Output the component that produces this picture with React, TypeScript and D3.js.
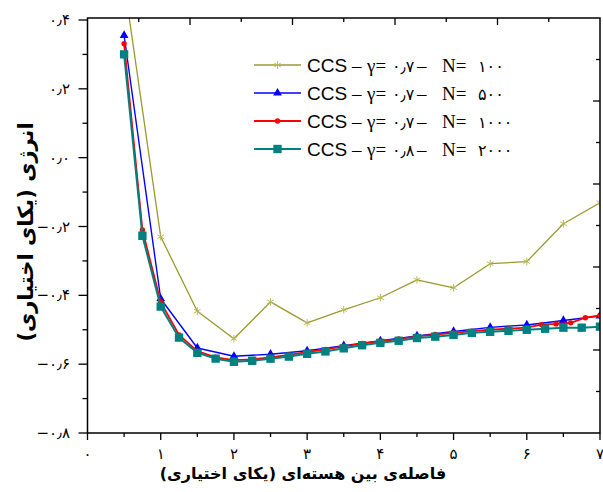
import React from "react";
import * as d3 from "d3";

// ---- data ----
const xOlive = [0.5, 1.0, 1.5, 2.0, 2.5, 3.0, 3.5, 4.0, 4.5, 5.0, 5.5, 6.0, 6.5, 7.0];
const yOlive = [0.51, -0.23, -0.446, -0.526, -0.419, -0.48, -0.442, -0.407, -0.355, -0.378, -0.308, -0.302, -0.192, -0.131];

const xBlue = [0.5, 1.0, 1.5, 2.0, 2.5, 3.0, 3.5, 4.0, 4.5, 5.0, 5.5, 6.0, 6.5, 7.0];
const yBlue = [0.355, -0.41, -0.553, -0.577, -0.571, -0.561, -0.546, -0.532, -0.518, -0.505, -0.493, -0.486, -0.473, -0.46];

const xRed = [0.5, 0.75, 1.0, 1.25, 1.5, 1.75, 2.0, 2.25, 2.5, 2.75, 3.0, 3.25, 3.5, 3.75, 4.0, 4.25, 4.5, 4.75, 5.0, 5.25, 5.5, 5.75, 6.0, 6.2, 6.4, 6.6, 6.8, 7.0];
const yRed = [0.331, -0.21, -0.42, -0.515, -0.562, -0.58, -0.588, -0.586, -0.58, -0.573, -0.565, -0.557, -0.548, -0.54, -0.533, -0.527, -0.519, -0.514, -0.509, -0.504, -0.5, -0.497, -0.494, -0.485, -0.483, -0.48, -0.465, -0.458];

const xTeal = [0.5, 0.75, 1.0, 1.25, 1.5, 1.75, 2.0, 2.25, 2.5, 2.75, 3.0, 3.25, 3.5, 3.75, 4.0, 4.25, 4.5, 4.75, 5.0, 5.25, 5.5, 5.75, 6.0, 6.25, 6.5, 6.75, 7.0];
const yTeal = [0.3, -0.227, -0.433, -0.523, -0.567, -0.584, -0.593, -0.59, -0.584, -0.578, -0.57, -0.563, -0.554, -0.545, -0.538, -0.532, -0.524, -0.52, -0.515, -0.509, -0.506, -0.503, -0.5, -0.497, -0.494, -0.494, -0.491];

const legendNumbers = ["۱۰۰", "۵۰۰", "۱۰۰۰", "۲۰۰۰"];
const legendGammas = ["۰٫۷", "۰٫۷", "۰٫۷", "۰٫۸"];

const xTickValues = [0, 1, 2, 3, 4, 5, 6, 7];
const xTickLabels = ["۰", "۱", "۲", "۳", "۴", "۵", "۶", "۷"];
const yTickValues = [0.4, 0.2, 0.0, -0.2, -0.4, -0.6, -0.8];
const yTickLabels = ["۰٫۴", "۰٫۲", "۰٫۰", "−۰٫۲", "−۰٫۴", "−۰٫۶", "−۰٫۸"];

const xTitle = "فاصله‌ی بین هسته‌ای (یکای اختیاری)";
const yTitle = "انرژی (یکای اختیاری)";

const LRO = "\u202D";
const PDF = "\u202C";

export default function App() {
  const W = 603, H = 492;
  const L = 87.5, R = 600, T = 18, B = 433;
  const x = d3.scaleLinear().domain([0, 7]).range([L, R]);
  const y = d3.scaleLinear().domain([-0.8, 0.4]).range([433, 20]);

  const mkLine = (xs: number[], ys: number[]) =>
    d3.line<number>().x((_, i) => x(xs[i])).y((d) => y(d))(ys) || "";

  const sym = (type: d3.SymbolType, size: number) => d3.symbol().type(type).size(size)() || "";
  const triPath = sym(d3.symbolTriangle, 34);
  const sqPath = sym(d3.symbolSquare, 70);
  const astPath = sym(d3.symbolAsterisk, 40);

  const series = [
    { xs: xOlive, ys: yOlive, color: "#9a9a2e", mcolor: "#b9b95a", width: 1.3, marker: "ast" },
    { xs: xBlue, ys: yBlue, color: "#0000ff", mcolor: "#0000ff", width: 1.4, marker: "tri" },
    { xs: xRed, ys: yRed, color: "#ff0000", mcolor: "#ff0000", width: 1.8, marker: "circ" },
    { xs: xTeal, ys: yTeal, color: "#008080", mcolor: "#008080", width: 2, marker: "sq" },
  ];

  const marker = (m: string, color: string, key: string | number, tx: number, ty: number) => {
    if (m === "circ") return <circle key={key} cx={tx} cy={ty} r={2.7} fill={color} />;
    if (m === "tri") return <path key={key} d={triPath} transform={`translate(${tx},${ty})`} fill={color} />;
    if (m === "sq") return <path key={key} d={sqPath} transform={`translate(${tx},${ty})`} fill={color} />;
    return <path key={key} d={astPath} transform={`translate(${tx},${ty})`} fill="none" stroke={color} strokeWidth={1} />;
  };

  const leftMajor = yTickValues;
  const leftMinor = d3.range(-0.7, 0.4, 0.2);
  const bottomMajor = xTickValues;
  const bottomMinor = d3.range(0.5, 7, 1);
  const topTicks = d3.range(1, 10);
  const rightTicks = d3.range(1, 10);

  const legendX = 254, legendRows = [65, 93, 121, 149];

  return (
    <svg width={W} height={H} style={{ position: "absolute", left: 0, top: 0, background: "#fff" }}>
      <defs>
        <clipPath id="plotclip">
          <rect x={L} y={T} width={R - L} height={B - T} />
        </clipPath>
      </defs>
      <rect x={0} y={0} width={W} height={H} fill="#fff" />

      <g clipPath="url(#plotclip)">
        {series.map((s, si) => (
          <g key={si}>
            <path d={mkLine(s.xs, s.ys)} fill="none" stroke={s.color} strokeWidth={s.width} strokeLinejoin="round" />
            {s.ys.map((v, i) => marker(s.marker, s.mcolor, i, x(s.xs[i]), y(v)))}
          </g>
        ))}
      </g>

      <rect x={L} y={T} width={R - L} height={B - T} fill="none" stroke="#000" strokeWidth={1.5} />

      {leftMajor.map((v, i) => (
        <line key={"lm" + i} x1={L - 9} x2={L} y1={y(v)} y2={y(v)} stroke="#000" strokeWidth={1.3} />
      ))}
      {leftMinor.map((v, i) => (
        <line key={"ln" + i} x1={L - 5} x2={L} y1={y(v)} y2={y(v)} stroke="#000" strokeWidth={1.3} />
      ))}
      {bottomMajor.map((v, i) => (
        <line key={"bm" + i} x1={x(v)} x2={x(v)} y1={B} y2={B + 7} stroke="#000" strokeWidth={1.3} />
      ))}
      {bottomMinor.map((v, i) => (
        <line key={"bn" + i} x1={x(v)} x2={x(v)} y1={B} y2={B + 4} stroke="#000" strokeWidth={1.3} />
      ))}
      {topTicks.map((k) => {
        const px = L + ((R - L) * k) / 10;
        return <line key={"t" + k} x1={px} x2={px} y1={T} y2={T + (k % 2 === 0 ? 7 : 4)} stroke="#000" strokeWidth={1.3} />;
      })}
      {rightTicks.map((k) => {
        const py = B - ((B - T) * k) / 10;
        return <line key={"r" + k} x1={R} x2={R - (k % 2 === 0 ? 7 : 4)} y1={py} y2={py} stroke="#000" strokeWidth={1.3} />;
      })}

      {xTickValues.map((v, i) => (
        <text key={"xl" + i} x={x(v)} y={459} textAnchor="middle" fontFamily="DejaVu Sans" fontSize={15} fill="#000">
          {xTickLabels[i]}
        </text>
      ))}
      {yTickValues.map((v, i) => (
        <text key={"yl" + i} x={70} y={y(v) + 5} textAnchor="end" fontFamily="DejaVu Sans" fontSize={15} fill="#000">
          {LRO + yTickLabels[i] + PDF}
        </text>
      ))}

      <text x={303} y={479} textAnchor="middle" direction="rtl" fontFamily="DejaVu Sans" fontWeight="bold" fontSize={16} fill="#000">
        {xTitle}
      </text>
      <text transform="translate(33,232) rotate(-90)" x={0} y={0} textAnchor="middle" direction="rtl" fontFamily="DejaVu Sans" fontWeight="bold" fontSize={21} fill="#000">
        {yTitle}
      </text>

      {series.map((s, i) => {
        const ly = legendRows[i];
        const tx = 307;
        return (
          <g key={"lg" + i}>
            <line x1={legendX} x2={legendX + 47} y1={ly} y2={ly} stroke={s.color} strokeWidth={s.width} />
            {marker(s.marker, s.mcolor, "m", legendX + 23.5, ly)}
            <text y={ly + 7} fontSize={19} fill="#000">
              <tspan x={tx} fontFamily="Liberation Sans">CCS</tspan>
              <tspan x={tx + 45} fontFamily="Liberation Serif">–</tspan>
              <tspan x={tx + 60} fontFamily="Liberation Serif">γ=</tspan>
              <tspan x={tx + 85} fontFamily="DejaVu Sans" fontSize={16}>{LRO + legendGammas[i] + PDF}</tspan>
              <tspan x={tx + 110} fontFamily="Liberation Serif">–</tspan>
              <tspan x={tx + 135} fontFamily="Liberation Serif">N=</tspan>
              <tspan x={tx + 171} fontFamily="DejaVu Sans" fontSize={16}>{LRO + legendNumbers[i] + PDF}</tspan>
            </text>
          </g>
        );
      })}
    </svg>
  );
}
